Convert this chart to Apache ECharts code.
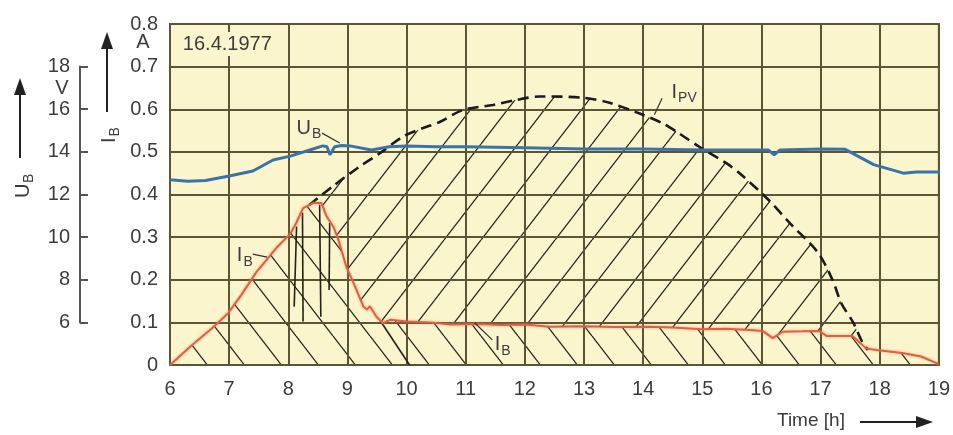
<!DOCTYPE html>
<html><head><meta charset="utf-8">
<script src="https://cdn.jsdelivr.net/npm/echarts@6/dist/echarts.min.js"></script>
<style>html,body{margin:0;padding:0;background:#fff}#c{width:953px;height:435px}</style>
</head><body><div id="c"></div>
<script>
// ---- data ----
const ibHours = [6, 6.34, 6.7, 6.98, 7.21, 7.46, 7.80, 8.03, 8.14, 8.25, 8.42, 8.56, 8.65, 8.76, 8.84, 8.98, 9.13, 9.27, 9.33, 9.38, 9.49, 9.60, 9.72, 10.0, 10.4, 10.73, 11.2, 11.6, 12.0, 12.42, 13.0, 13.5, 14.1, 14.5, 15.0, 15.4, 15.8, 16.02, 16.19, 16.36, 16.7, 16.98, 17.1, 17.54, 17.77, 17.94, 18.38, 18.7, 18.95, 19];
const ibAmps  = [0, 0.043, 0.085, 0.121, 0.165, 0.218, 0.275, 0.307, 0.335, 0.368, 0.380, 0.380, 0.348, 0.325, 0.297, 0.231, 0.184, 0.137, 0.130, 0.138, 0.113, 0.098, 0.106, 0.102, 0.100, 0.095, 0.096, 0.094, 0.095, 0.090, 0.091, 0.089, 0.090, 0.088, 0.084, 0.085, 0.082, 0.080, 0.063, 0.078, 0.079, 0.080, 0.068, 0.068, 0.039, 0.035, 0.028, 0.020, 0.005, 0.002];

const pvHours = [8.35, 8.76, 9.2, 9.55, 9.94, 10.28, 10.56, 10.95, 11.46, 11.86, 12.25, 12.98, 13.43, 13.94, 14.33, 14.6, 14.95, 15.4, 15.63, 16.1, 16.5, 16.95, 17.2, 17.35, 17.55, 17.7, 17.8];
const pvAmps  = [0.375, 0.42, 0.465, 0.497, 0.536, 0.556, 0.57, 0.598, 0.61, 0.622, 0.63, 0.627, 0.615, 0.59, 0.567, 0.544, 0.512, 0.474, 0.45, 0.39, 0.33, 0.265, 0.20, 0.145, 0.10, 0.055, 0.035];

const ubHours = [6, 6.3, 6.6, 7.0, 7.4, 7.74, 8.03, 8.36, 8.58, 8.65, 8.7, 8.78, 8.9, 9.04, 9.4, 9.7, 10.0, 10.5, 11, 12, 13, 14, 15, 16.1, 16.2, 16.3, 17, 17.4, 17.88, 18.38, 18.6, 19];
const ubVolts = [12.69, 12.62, 12.66, 12.87, 13.1, 13.62, 13.8, 14.09, 14.28, 14.24, 13.86, 14.24, 14.3, 14.28, 14.09, 14.24, 14.28, 14.24, 14.24, 14.19, 14.14, 14.14, 14.09, 14.09, 13.86, 14.09, 14.14, 14.12, 13.4, 13.0, 13.06, 13.05];

// charging-regulation strokes under the I_B peak [hour, A] pairs
const strokeStart = [[8.14, 0.325], [8.24, 0.357], [8.53, 0.376], [8.70, 0.333], [9.55, 0.105]];
const strokeEnd   = [[8.10, 0.137], [8.25, 0.102], [8.55, 0.113], [8.69, 0.176], [10.05, 0.0]];

const hourRange = [6, 19];
const ampRange = [0, 0.8];
const voltRange = [6, 18];
const dateLabel = '16.4.1977';

// ---- styling ----
const FONT = '"Liberation Sans", Arial, sans-serif';
const TXT = '#3c3c3c';
const BG = '#fbf5cd';
const GRIDC = '#5b5536';

function hatch(dir) {
  const w = 37, h = 48;
  const c = document.createElement('canvas'); c.width = w; c.height = h;
  const g = c.getContext('2d');
  g.strokeStyle = '#2a281c'; g.lineWidth = 1.3;
  g.beginPath();
  for (const dx of [-w, 0, w]) {
    if (dir === '/') { g.moveTo(dx, h); g.lineTo(dx + w, 0); }
    else { g.moveTo(dx, 0); g.lineTo(dx + w, h); }
  }
  g.stroke();
  return { image: c, repeat: 'repeat' };
}

const zip = (a, b) => a.map((v, i) => [v, b[i]]);
const ib = zip(ibHours, ibAmps);
const pv = zip(pvHours, pvAmps);
const ub = zip(ubHours, ubVolts);

const chart = echarts.init(document.getElementById('c'), null, { renderer: 'canvas' });
chart.setOption({
  animation: false,
  backgroundColor: '#ffffff',
  grid: [
    { left: 170, right: 13, top: 24, bottom: 70, show: true, backgroundColor: BG, borderColor: GRIDC, borderWidth: 2 },
    { left: 170, right: 13, top: 66.6, bottom: 112.6 }
  ],
  xAxis: [
    { type: 'value', gridIndex: 0, min: hourRange[0], max: hourRange[1], interval: 1, z: 4,
      axisLine: { show: true, lineStyle: { color: GRIDC, width: 2 } },
      axisTick: { show: false },
      axisLabel: { fontSize: 20, color: TXT, fontFamily: FONT, margin: 14 },
      splitLine: { show: true, lineStyle: { color: GRIDC, width: 2 } } },
    { type: 'value', gridIndex: 1, min: hourRange[0], max: hourRange[1], show: false }
  ],
  yAxis: [
    { type: 'value', gridIndex: 0, min: ampRange[0], max: ampRange[1], interval: 0.1, z: 4,
      axisLine: { show: true, lineStyle: { color: GRIDC, width: 2 } },
      axisTick: { show: false },
      axisLabel: { fontSize: 20, color: TXT, fontFamily: FONT, margin: 12,
        formatter: v => v === 0 ? '0' : v.toFixed(1) },
      splitLine: { show: true, lineStyle: { color: GRIDC, width: 2 } } },
    { type: 'value', gridIndex: 1, min: voltRange[0], max: voltRange[1], interval: 2, offset: 90, position: 'left',
      axisLine: { show: true, lineStyle: { color: '#555', width: 2 } },
      axisTick: { show: true, inside: true, length: 8, lineStyle: { color: '#555', width: 2 } },
      axisLabel: { fontSize: 20, color: TXT, fontFamily: FONT, margin: 10 },
      splitLine: { show: false } }
  ],
  series: [
    { name: 'IPV area', type: 'line', xAxisIndex: 0, yAxisIndex: 0, data: pv, symbol: 'none', smooth: 0.3,
      lineStyle: { width: 0 }, areaStyle: { color: hatch('/'), opacity: 1 }, z: 1, silent: true },
    { name: 'IB cover', type: 'line', xAxisIndex: 0, yAxisIndex: 0, data: ib, symbol: 'none',
      lineStyle: { width: 0 }, areaStyle: { color: BG, opacity: 1 }, z: 2, silent: true },
    { name: 'IB hatch', type: 'line', xAxisIndex: 0, yAxisIndex: 0, data: ib, symbol: 'none',
      lineStyle: { width: 0 }, areaStyle: { color: hatch('\\'), opacity: 1 }, z: 3, silent: true },
    { name: 'strokes', type: 'lines', coordinateSystem: 'cartesian2d', xAxisIndex: 0, yAxisIndex: 0,
      data: strokeStart.map((s, i) => ({ coords: [s, strokeEnd[i]] })),
      lineStyle: { color: '#24221a', width: 1.6, opacity: 1 }, z: 5, silent: true },
    { name: 'IPV', type: 'line', xAxisIndex: 0, yAxisIndex: 0, data: pv, symbol: 'none', smooth: 0.3,
      lineStyle: { color: '#1b1b1b', width: 2.6, type: [11, 6] }, z: 6 },
    { name: 'IB', type: 'line', xAxisIndex: 0, yAxisIndex: 0, data: ib, symbol: 'none',
      lineStyle: { color: '#df5f3e', width: 2, shadowColor: 'rgba(235,130,100,0.6)', shadowBlur: 3 }, z: 7 },
    { name: 'UB', type: 'line', xAxisIndex: 1, yAxisIndex: 1, data: ub, symbol: 'none',
      lineStyle: { color: '#3a73a9', width: 3 }, z: 7 }
  ]
});

// ---- annotations anchored to data positions ----
const P = p => chart.convertToPixel({ xAxisIndex: 0, yAxisIndex: 0 }, p);
const els = [];
function txt(x, y, text, size, extra) {
  return Object.assign({ type: 'text', x, y, z: 100,
    style: Object.assign({ text, fill: TXT, fontSize: size, fontFamily: FONT, align: 'left', verticalAlign: 'middle' }, extra || {}) });
}
function subLabel(at, main, sub) {
  const [x, y] = P(at);
  const mw = 20 * (main === 'U' ? 0.722 : 0.278) + 1;
  els.push(txt(x, y, main, 20));
  els.push(txt(x + mw, y + 6, sub, 14));
}
function leader(a, b) {
  const [x1, y1] = P(a), [x2, y2] = P(b);
  els.push({ type: 'line', z: 100, shape: { x1, y1, x2, y2 }, style: { stroke: '#333', lineWidth: 1.2 } });
}
const d = P([6.2, 0.753]);
els.push(txt(d[0], d[1], dateLabel, 20, { backgroundColor: BG, padding: [2, 1] }));
subLabel([8.14, 0.556], 'U', 'B'); leader([8.57, 0.544], [8.87, 0.521]);
subLabel([7.13, 0.256], 'I', 'B'); leader([7.40, 0.260], [7.64, 0.253]);
subLabel([11.49, 0.047], 'I', 'B'); leader([11.15, 0.099], [11.45, 0.059]);
subLabel([14.48, 0.64], 'I', 'PV'); leader([14.32, 0.626], [14.19, 0.587]);

// ---- axis titles and arrows outside the plot ----
els.push(txt(62, 88, 'V', 20, { align: 'center' }));
els.push(txt(143, 42, 'A', 20, { align: 'center' }));
els.push({ type: 'group', x: 23, y: 198, rotation: Math.PI / 2, children: [
  txt(0, 0, 'U', 20), txt(15, 6, 'B', 14) ] });
els.push({ type: 'group', x: 109, y: 143, rotation: Math.PI / 2, children: [
  txt(0, 0, 'I', 20), txt(6.5, 6, 'B', 14) ] });
const AR = '#222';
els.push({ type: 'line', shape: { x1: 20, y1: 158, x2: 20, y2: 92 }, style: { stroke: AR, lineWidth: 2 } });
els.push({ type: 'polygon', shape: { points: [[20, 78], [14, 95], [26, 95]] }, style: { fill: AR } });
els.push({ type: 'line', shape: { x1: 107, y1: 112, x2: 107, y2: 46 }, style: { stroke: AR, lineWidth: 2 } });
els.push({ type: 'polygon', shape: { points: [[107, 32], [101, 49], [113, 49]] }, style: { fill: AR } });
els.push(txt(777, 421, 'Time [h]', 19));
els.push({ type: 'line', shape: { x1: 860, y1: 422, x2: 918, y2: 422 }, style: { stroke: AR, lineWidth: 2 } });
els.push({ type: 'polygon', shape: { points: [[933, 422], [916, 416], [916, 428]] }, style: { fill: AR } });

chart.setOption({ graphic: els });
</script>
</body></html>
